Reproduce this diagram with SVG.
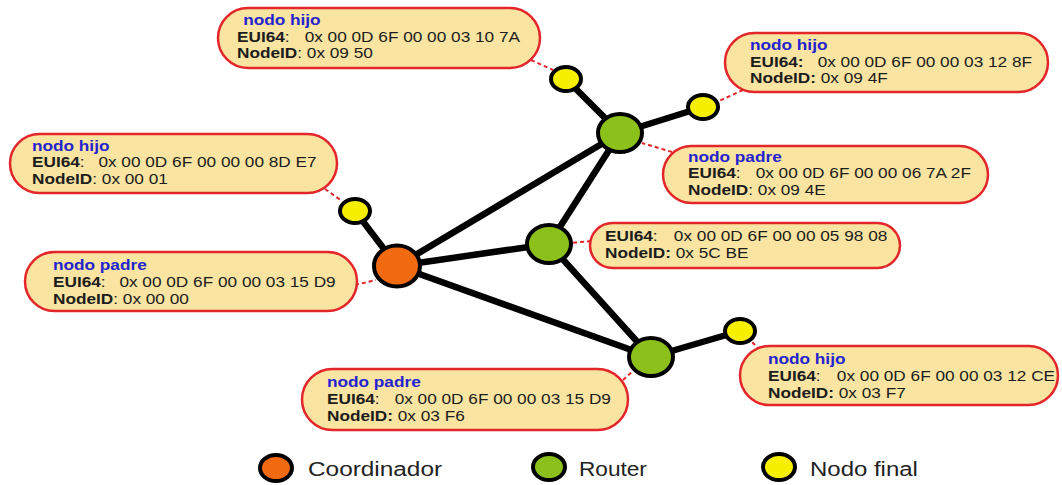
<svg xmlns="http://www.w3.org/2000/svg" width="1062" height="485" viewBox="0 0 1062 485">
  <style>
    .bg { fill: #ffffff; }
    .box { fill: #fae4a2; stroke: #e3262a; stroke-width: 2.5; }
    .link { stroke: #000000; stroke-width: 6.5; stroke-linecap: round; fill: none; }
    .tie { stroke: #e3262a; stroke-width: 2; stroke-dasharray: 4 3; fill: none; }
    .coord { fill: #f26a0f; stroke: #000000; stroke-width: 4; }
    .router { fill: #8cc11c; stroke: #000000; stroke-width: 4; }
    .end { fill: #f7ef00; stroke: #000000; stroke-width: 4; }
    .info { font-family: "Liberation Sans", Arial, sans-serif; font-size: 14px; fill: #1c1c1c; }
    .info .hdr { font-weight: bold; fill: #2323cf; }
    .info .key { font-weight: bold; }
    .legend { font-family: "Liberation Sans", Arial, sans-serif; font-size: 19.5px; fill: #222222; }
  </style>

  <rect class="bg" x="0" y="0" width="1062" height="485"/>

  <!-- black links between nodes, dashed red ties from info boxes -->
  <g id="connectors">
    <line class="link" x1="397" y1="266" x2="355" y2="211"/>
    <line class="link" x1="397" y1="266" x2="620" y2="133"/>
    <line class="link" x1="397" y1="266" x2="549" y2="244"/>
    <line class="link" x1="397" y1="266" x2="651" y2="357"/>
    <line class="link" x1="620" y1="133" x2="549" y2="244"/>
    <line class="link" x1="549" y1="244" x2="651" y2="357"/>
    <line class="link" x1="620" y1="133" x2="566" y2="79"/>
    <line class="link" x1="620" y1="133" x2="703" y2="107"/>
    <line class="link" x1="651" y1="357" x2="740" y2="331"/>

    <line class="tie" x1="531" y1="60" x2="553" y2="70"/>
    <line class="tie" x1="743" y1="90" x2="719" y2="101"/>
    <line class="tie" x1="672" y1="152" x2="642" y2="143"/>
    <line class="tie" x1="325" y1="189" x2="342" y2="201"/>
    <line class="tie" x1="355" y1="285" x2="376" y2="280"/>
    <line class="tie" x1="591" y1="241" x2="571" y2="243"/>
    <line class="tie" x1="760" y1="350" x2="751" y2="341"/>
    <line class="tie" x1="623" y1="380" x2="633" y2="371"/>
  </g>

  <!-- network nodes -->
  <g id="coordinador">
    <ellipse class="coord" cx="397" cy="266" rx="23" ry="20.5"/>
  </g>
  <g id="router-top">
    <ellipse class="router" cx="620" cy="133" rx="22" ry="19"/>
  </g>
  <g id="router-mid">
    <ellipse class="router" cx="549" cy="244" rx="22" ry="19"/>
  </g>
  <g id="router-bottom">
    <ellipse class="router" cx="651" cy="357" rx="22" ry="19"/>
  </g>
  <g id="end-left">
    <ellipse class="end" cx="355" cy="211" rx="15" ry="12"/>
  </g>
  <g id="end-top">
    <ellipse class="end" cx="566" cy="79" rx="15" ry="12"/>
  </g>
  <g id="end-top-right">
    <ellipse class="end" cx="703" cy="107" rx="15" ry="12"/>
  </g>
  <g id="end-bottom-right">
    <ellipse class="end" cx="740" cy="331" rx="15" ry="12"/>
  </g>

  <!-- info boxes -->
  <g id="info-hijo-top">
    <rect class="box" x="218" y="8" width="322" height="60" rx="30"/>
    <g class="info" transform="translate(237,25) scale(1.23,1)">
      <text class="hdr" x="5" y="0">nodo hijo</text>
      <text y="17"><tspan class="key">EUI64</tspan>:<tspan x="55">0x 00 0D 6F 00 00 03 10 7A</tspan></text>
      <text y="33.5"><tspan class="key">NodeID</tspan>: 0x 09 50</text>
    </g>
  </g>

  <g id="info-hijo-top-right">
    <rect class="box" x="725" y="33" width="323" height="59" rx="29.5"/>
    <g class="info" transform="translate(750,50) scale(1.23,1)">
      <text class="hdr" x="0" y="0">nodo hijo</text>
      <text y="17"><tspan class="key">EUI64:</tspan><tspan x="55">0x 00 0D 6F 00 00 03 12 8F</tspan></text>
      <text y="33.5"><tspan class="key">NodeID:</tspan> 0x 09 4F</text>
    </g>
  </g>

  <g id="info-padre-top-right">
    <rect class="box" x="663" y="146" width="325" height="57" rx="28.5"/>
    <g class="info" transform="translate(688,162) scale(1.23,1)">
      <text class="hdr" x="0" y="0">nodo padre</text>
      <text y="16.5"><tspan class="key">EUI64</tspan>:<tspan x="55">0x 00 0D 6F 00 00 06 7A 2F</tspan></text>
      <text y="33"><tspan class="key">NodeID</tspan>: 0x 09 4E</text>
    </g>
  </g>

  <g id="info-hijo-left">
    <rect class="box" x="10" y="134" width="327" height="59" rx="29.5"/>
    <g class="info" transform="translate(32,151) scale(1.23,1)">
      <text class="hdr" x="0" y="0">nodo hijo</text>
      <text y="16.5"><tspan class="key">EUI64</tspan>:<tspan x="54">0x 00 0D 6F 00 00 00 8D E7</tspan></text>
      <text y="33"><tspan class="key">NodeID</tspan>: 0x 00 01</text>
    </g>
  </g>

  <g id="info-padre-left">
    <rect class="box" x="25" y="252" width="332" height="59" rx="29.5"/>
    <g class="info" transform="translate(53,270) scale(1.23,1)">
      <text class="hdr" x="0" y="0">nodo padre</text>
      <text y="17"><tspan class="key">EUI64</tspan>:<tspan x="54">0x 00 0D 6F 00 00 03 15 D9</tspan></text>
      <text y="34"><tspan class="key">NodeID</tspan>: 0x 00 00</text>
    </g>
  </g>

  <g id="info-router-mid">
    <rect class="box" x="590" y="223" width="310" height="45" rx="22.5"/>
    <g class="info" transform="translate(605,241) scale(1.23,1)">
      <text y="0"><tspan class="key">EUI64</tspan>:<tspan x="56">0x 00 0D 6F 00 00 05 98 08</tspan></text>
      <text y="17"><tspan class="key">NodeID:</tspan> 0x 5C BE</text>
    </g>
  </g>

  <g id="info-hijo-bottom-right">
    <rect class="box" x="740" y="346" width="318" height="59" rx="29.5"/>
    <g class="info" transform="translate(768,364) scale(1.23,1)">
      <text class="hdr" x="0" y="0">nodo hijo</text>
      <text y="17"><tspan class="key">EUI64</tspan>:<tspan x="56">0x 00 0D 6F 00 00 03 12 CE</tspan></text>
      <text y="34"><tspan class="key">NodeID:</tspan> 0x 03 F7</text>
    </g>
  </g>

  <g id="info-padre-bottom">
    <rect class="box" x="302" y="369" width="326" height="61" rx="30.5"/>
    <g class="info" transform="translate(327,387) scale(1.23,1)">
      <text class="hdr" x="0" y="0">nodo padre</text>
      <text y="17"><tspan class="key">EUI64</tspan>:<tspan x="55">0x 00 0D 6F 00 00 03 15 D9</tspan></text>
      <text y="34"><tspan class="key">NodeID:</tspan> 0x 03 F6</text>
    </g>
  </g>

  <!-- legend -->
  <g id="legend">
    <ellipse class="coord" cx="276" cy="468" rx="16" ry="13"/>
    <text class="legend" transform="translate(308,476) scale(1.25,1)">Coordinador</text>
    <ellipse class="router" cx="549" cy="467" rx="16" ry="13"/>
    <text class="legend" transform="translate(579,476) scale(1.16,1)">Router</text>
    <ellipse class="end" cx="779" cy="467" rx="16" ry="13"/>
    <text class="legend" transform="translate(810,476) scale(1.23,1)">Nodo final</text>
  </g>
</svg>
